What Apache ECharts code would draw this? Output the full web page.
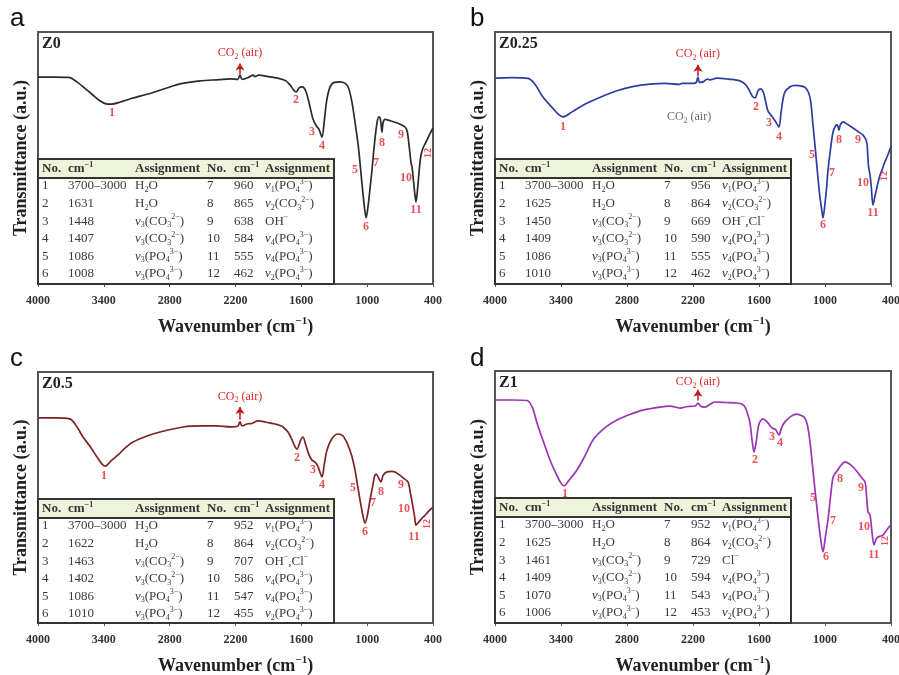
<!DOCTYPE html>
<html lang="en">
<head>
<meta charset="UTF-8">
<title>FTIR spectra</title>
<script src="https://cdn.jsdelivr.net/npm/echarts@6/dist/echarts.min.js"></script>
<style>
    html, body { margin: 0; padding: 0; background: #fff; }
    #chart { width: 899px; height: 675px; }
</style>
</head>
<body>
<div id="chart"></div>
<script>
// ---------- data (wavenumber cm-1, transmittance a.u. on a 0-100 scale) ----------
var sampleNames = ['Z0', 'Z0.25', 'Z0.5', 'Z1'];
var panelLetters = ['a', 'b', 'c', 'd'];

var spectrumZ0 = [[4000,82.1],[3850,82.1],[3720,82.0],[3640,80.0],[3572,77.6],[3500,75.0],[3440,72.8],[3380,71.5],[3330,71.4],[3250,72.2],[3150,73.6],[2979,75.6],[2840,77.6],[2706,79.4],[2524,80.6],[2350,81.1],[2250,81.4],[2180,81.2],[2159,82.9],[2140,81.2],[2080,82.0],[2040,82.9],[2022,82.3],[1990,82.9],[1900,82.3],[1800,81.5],[1740,80.6],[1700,78.8],[1670,77.0],[1648,76.2],[1620,77.8],[1590,78.2],[1560,76.6],[1530,72.0],[1494,65.5],[1460,62.5],[1440,61.5],[1412,58.3],[1390,65.0],[1370,72.5],[1340,78.0],[1300,80.0],[1248,80.2],[1200,79.6],[1170,77.8],[1140,72.5],[1110,64.0],[1080,54.5],[1050,41.0],[1025,30.5],[1010,26.2],[990,31.5],[970,39.5],[956,45.2],[935,55.0],[910,64.0],[892,66.3],[878,65.0],[865,60.3],[855,64.0],[837,65.3],[790,64.8],[746,64.2],[700,63.4],[655,62.3],[635,60.5],[618,55.0],[600,48.0],[591,46.5],[578,41.0],[565,35.5],[555,32.5],[540,38.0],[525,45.5],[510,51.0],[491,54.0],[470,55.8],[455,57.1],[430,59.5],[400,61.9]];
var spectrumZ025 = [[4000,81.7],[3850,81.9],[3700,81.6],[3640,79.5],[3564,74.2],[3480,70.0],[3420,67.2],[3382,66.3],[3300,68.3],[3200,70.9],[3136,72.3],[3000,74.9],[2891,76.7],[2750,78.3],[2591,79.3],[2450,79.6],[2330,79.2],[2300,79.6],[2200,79.6],[2170,80.0],[2155,82.1],[2140,80.0],[2109,80.2],[2070,81.3],[2045,81.0],[1982,81.7],[1880,81.3],[1773,80.6],[1720,79.0],[1690,77.0],[1660,74.5],[1636,73.8],[1610,76.6],[1585,77.4],[1560,76.0],[1540,72.5],[1518,68.6],[1482,66.5],[1450,64.5],[1418,62.3],[1400,68.0],[1380,73.8],[1364,76.2],[1320,78.2],[1270,78.8],[1220,78.6],[1182,78.0],[1150,76.0],[1130,72.5],[1109,63.0],[1090,54.5],[1073,46.4],[1050,36.0],[1030,29.5],[1018,26.2],[1000,32.0],[985,38.5],[973,45.0],[950,53.5],[927,60.3],[905,62.7],[891,63.3],[880,62.0],[873,61.1],[862,63.0],[836,64.3],[790,63.2],[745,61.9],[700,60.5],[655,59.1],[630,57.5],[618,55.5],[605,47.0],[591,43.3],[580,39.0],[564,31.3],[545,35.0],[527,38.5],[505,42.5],[482,45.2],[460,48.0],[436,50.4],[415,52.8],[400,54.4]];
var spectrumZ05 = [[4000,81.7],[3850,81.7],[3710,81.3],[3650,78.5],[3590,74.1],[3520,70.0],[3462,66.1],[3420,63.5],[3389,62.5],[3330,64.8],[3253,67.7],[3200,70.0],[3134,72.1],[3000,74.6],[2888,76.1],[2678,78.1],[2500,78.5],[2369,78.5],[2250,78.1],[2180,78.4],[2159,80.1],[2140,78.5],[2095,79.3],[2050,79.5],[1995,80.5],[1900,79.8],[1800,78.8],[1767,78.1],[1720,76.0],[1690,73.5],[1660,70.5],[1639,69.3],[1610,72.5],[1585,74.1],[1560,71.0],[1530,67.0],[1503,64.9],[1475,64.1],[1450,62.5],[1412,58.2],[1390,63.5],[1366,68.9],[1320,73.5],[1266,75.3],[1220,74.5],[1175,70.9],[1140,66.5],[1111,61.0],[1090,55.5],[1065,49.0],[1040,43.0],[1020,39.8],[1000,42.5],[974,49.0],[950,54.5],[929,59.0],[915,59.2],[901,58.2],[874,56.2],[855,58.8],[819,60.2],[780,60.4],[746,60.2],[700,58.8],[673,57.8],[628,56.2],[605,51.5],[582,46.2],[565,41.5],[555,39.0],[530,40.2],[500,41.8],[480,42.6],[455,43.8],[430,45.0],[400,46.2]];
var spectrumZ1 = [[4000,88.5],[3850,88.5],[3709,88.3],[3660,85.5],[3618,79.4],[3560,72.0],[3500,64.7],[3440,58.8],[3400,55.5],[3373,54.4],[3330,56.5],[3255,60.7],[3180,66.5],[3109,72.6],[3000,77.5],[2891,80.6],[2760,83.0],[2655,84.5],[2500,85.7],[2409,86.1],[2318,85.3],[2250,85.9],[2180,86.1],[2155,87.3],[2130,86.0],[2091,85.7],[2040,86.9],[2000,87.7],[1900,87.5],[1800,87.3],[1750,86.7],[1727,85.7],[1700,82.5],[1682,79.4],[1660,71.5],[1645,67.9],[1625,72.0],[1600,79.0],[1564,81.0],[1520,79.5],[1482,77.4],[1450,76.8],[1418,74.6],[1395,77.5],[1364,79.8],[1310,82.0],[1255,82.9],[1210,82.2],[1182,81.3],[1160,78.5],[1136,71.8],[1115,63.0],[1091,52.8],[1070,44.5],[1040,33.5],[1018,28.2],[1000,33.0],[985,37.5],[973,40.9],[950,50.0],[927,57.9],[905,59.5],[891,60.3],[860,62.3],[818,63.9],[780,63.2],[745,61.9],[700,59.6],[664,57.5],[636,56.0],[622,50.5],[609,44.0],[591,42.9],[575,37.0],[555,31.0],[535,33.3],[518,34.1],[495,34.5],[473,34.9],[445,36.5],[418,38.1],[400,38.9]];

// anchor of the red peak numbers 1..12 (wavenumber, transmittance)
var peaksZ0 = [[3326,67.9],[1649,73.0],[1503,60.3],[1412,54.8],[1111,45.2],[1011,22.6],[919,48.0],[865,55.9],[692,59.1],[646,42.1],[555,29.4],[446,52.0]];
var peaksZ025 = [[3382,62.3],[1627,70.2],[1509,63.9],[1418,58.3],[1118,51.2],[1018,23.4],[936,44.0],[873,57.1],[700,57.1],[655,40.1],[564,28.2],[464,42.9]];
var peaksZ05 = [[3398,58.6],[1639,65.7],[1494,61.0],[1412,55.0],[1129,53.8],[1020,36.3],[947,47.8],[874,52.2],[692,55.0],[664,45.4],[573,34.3],[455,39.4]];
var peaksZ1 = [[3364,51.2],[1636,64.7],[1482,73.8],[1409,71.4],[1109,49.6],[991,26.2],[927,40.5],[864,57.1],[673,53.6],[645,38.1],[555,27.0],[455,32.5]];

// CO2 (air) arrow: wavenumber, arrow start, arrow tip
var co2Z0 = [2159, 83.3, 87.5];
var co2Z025 = [2155, 82.5, 87.0];
var co2Z05 = [2159, 81.0, 86.1];
var co2Z1 = [2155, 88.3, 92.6];
var co2NoteZ025 = [2236, 66.3];

// band assignment tables (_x subscript, ^{..} superscript, *v italic)
var tableHeader = ['No.', 'cm^{−1}', 'Assignment', 'No.', 'cm^{−1}', 'Assignment'];
var tableZ0 = [
    ['1', '3700–3000', 'H_2O', '7', '960', '*v_1(PO_4^{3−})'],
    ['2', '1631', 'H_2O', '8', '865', '*v_2(CO_3^{2−})'],
    ['3', '1448', '*v_3(CO_3^{2−})', '9', '638', 'OH^{−}'],
    ['4', '1407', '*v_3(CO_3^{2−})', '10', '584', '*v_4(PO_4^{3−})'],
    ['5', '1086', '*v_3(PO_4^{3−})', '11', '555', '*v_4(PO_4^{3−})'],
    ['6', '1008', '*v_3(PO_4^{3−})', '12', '462', '*v_2(PO_4^{3−})']
];
var tableZ025 = [
    ['1', '3700–3000', 'H_2O', '7', '956', '*v_1(PO_4^{3−})'],
    ['2', '1625', 'H_2O', '8', '864', '*v_2(CO_3^{2−})'],
    ['3', '1450', '*v_3(CO_3^{2−})', '9', '669', 'OH^{−},Cl^{−}'],
    ['4', '1409', '*v_3(CO_3^{2−})', '10', '590', '*v_4(PO_4^{3−})'],
    ['5', '1086', '*v_3(PO_4^{3−})', '11', '555', '*v_4(PO_4^{3−})'],
    ['6', '1010', '*v_3(PO_4^{3−})', '12', '462', '*v_2(PO_4^{3−})']
];
var tableZ05 = [
    ['1', '3700–3000', 'H_2O', '7', '952', '*v_1(PO_4^{3−})'],
    ['2', '1622', 'H_2O', '8', '864', '*v_2(CO_3^{2−})'],
    ['3', '1463', '*v_3(CO_3^{2−})', '9', '707', 'OH^{−},Cl^{−}'],
    ['4', '1402', '*v_3(CO_3^{2−})', '10', '586', '*v_4(PO_4^{3−})'],
    ['5', '1086', '*v_3(PO_4^{3−})', '11', '547', '*v_4(PO_4^{3−})'],
    ['6', '1010', '*v_3(PO_4^{3−})', '12', '455', '*v_2(PO_4^{3−})']
];
var tableZ1 = [
    ['1', '3700–3000', 'H_2O', '7', '952', '*v_1(PO_4^{3−})'],
    ['2', '1625', 'H_2O', '8', '864', '*v_2(CO_3^{2−})'],
    ['3', '1461', '*v_3(CO_3^{2−})', '9', '729', 'Cl^{−}'],
    ['4', '1409', '*v_3(CO_3^{2−})', '10', '594', '*v_4(PO_4^{3−})'],
    ['5', '1070', '*v_3(PO_4^{3−})', '11', '543', '*v_4(PO_4^{3−})'],
    ['6', '1006', '*v_3(PO_4^{3−})', '12', '453', '*v_2(PO_4^{3−})']
];

// ---------- layout / style ----------
var SERIF = "'Liberation Serif', 'Times New Roman', serif";
var SANS = "'Liberation Sans', Arial, sans-serif";
var RED = '#e3262b';
var lineColors = ['#2a2a2a', '#2f3c9e', '#7d2326', '#9a34b4'];
var grids = [
    {left: 38, top: 32, width: 395, height: 252},
    {left: 495, top: 32, width: 396, height: 252},
    {left: 38, top: 372, width: 395, height: 251},
    {left: 495, top: 371, width: 396, height: 252}
];
var spectra = [spectrumZ0, spectrumZ025, spectrumZ05, spectrumZ1];
var peaks = [peaksZ0, peaksZ025, peaksZ05, peaksZ1];
var co2 = [co2Z0, co2Z025, co2Z05, co2Z1];
var tables = [tableZ0, tableZ025, tableZ05, tableZ1];
var colX = [4, 30, 97, 169, 196, 227];

// markup -> rich text tokens
function toRich(s, bold) {
    var p = bold ? 'h' : '';
    return s.replace(/\*(\w)|_(\w)|\^\{([^}]*)\}|([^*_^]+)/g, function (m, it, sb, sp, t) {
        if (it) return '{' + p + 'it|' + it + '}';
        if (sb) return '{' + p + 'sb|' + sb + '}';
        if (sp) return '{' + p + 'sp|' + sp + '}';
        return '{' + p + 'n|' + t + '}';
    });
}

function tok(size, extra) {
    var o = {fontSize: size, fontFamily: SERIF, lineHeight: size >= 12 ? 16 : 8};
    for (var k in extra) o[k] = extra[k];
    return o;
}
var tableRich = {
    n: tok(13, {fill: '#3a3a3a'}),
    it: tok(13, {fill: '#3a3a3a', fontStyle: 'italic'}),
    sb: tok(8, {fill: '#3a3a3a', verticalAlign: 'bottom'}),
    sp: tok(8, {fill: '#3a3a3a', verticalAlign: 'top'}),
    hn: tok(13, {fill: '#333', fontWeight: 'bold'}),
    hsp: tok(8, {fill: '#333', fontWeight: 'bold', verticalAlign: 'top'})
};

function tableGraphic(g, rows) {
    var x0 = g.left, y0 = g.top + 127, w = 296, h = g.height - 127;
    var els = [
        {type: 'rect', silent: true, z: 10, shape: {x: x0, y: y0, width: w, height: h},
            style: {fill: '#fff', stroke: '#333', lineWidth: 2}},
        {type: 'rect', silent: true, z: 11, shape: {x: x0, y: y0, width: w, height: 19},
            style: {fill: '#eef3dc', stroke: '#333', lineWidth: 2}}
    ];
    tableHeader.forEach(function (t, c) {
        els.push({type: 'text', silent: true, z: 12,
            style: {text: toRich(t, true), rich: tableRich, x: x0 + colX[c], y: y0 + 9.5, verticalAlign: 'middle', align: 'left'}});
    });
    rows.forEach(function (r, i) {
        r.forEach(function (t, c) {
            els.push({type: 'text', silent: true, z: 12,
                style: {text: toRich(t, false), rich: tableRich, x: x0 + colX[c], y: y0 + 27 + 17.6 * i, verticalAlign: 'middle', align: 'left'}});
        });
    });
    return els;
}

var labelRich = {
    n: {fontSize: 12, fontFamily: SERIF, color: RED, lineHeight: 15},
    s: {fontSize: 8, fontFamily: SERIF, color: RED, verticalAlign: 'bottom', lineHeight: 8}
};
var grayRich = {
    n: {fontSize: 12, fontFamily: SERIF, color: '#444', lineHeight: 15},
    s: {fontSize: 8, fontFamily: SERIF, color: '#444', verticalAlign: 'bottom', lineHeight: 8}
};
var nameRich = {
    n: {fontSize: 18, fontFamily: SERIF, fontWeight: 'bold', color: '#222', lineHeight: 22},
    s: {fontSize: 11, fontFamily: SERIF, fontWeight: 'bold', color: '#222', verticalAlign: 'top', lineHeight: 11}
};

var xAxes = [], yAxes = [], series = [], graphics = [];
grids.forEach(function (g, i) {
    xAxes.push({
        gridIndex: i, type: 'value', min: 400, max: 4000, interval: 600, inverse: true,
        axisLine: {show: true, lineStyle: {color: '#555', width: 2}},
        axisTick: {show: true, length: 3, lineStyle: {color: '#555'}},
        axisLabel: {margin: 11, fontFamily: SERIF, fontWeight: 'bold', fontSize: 12, color: '#333',
            showMinLabel: true, showMaxLabel: true, formatter: function (v) { return String(v); }},
        splitLine: {show: false},
        name: '{n|Wavenumber (cm}{s|−1}{n|)}', nameLocation: 'middle', nameGap: 32,
        nameTextStyle: {rich: nameRich}
    });
    yAxes.push({
        gridIndex: i, type: 'value', min: 0, max: 100,
        axisLine: {show: false}, axisTick: {show: false}, axisLabel: {show: false}, splitLine: {show: false},
        name: 'Transmittance (a.u.)', nameLocation: 'middle', nameGap: 8,
        nameTextStyle: {fontFamily: SERIF, fontWeight: 'bold', fontSize: 18, color: '#222'}
    });
    var c = co2[i];
    series.push({
        type: 'line', xAxisIndex: i, yAxisIndex: i, data: spectra[i], showSymbol: false, symbol: 'none',
        smooth: 0.3, lineStyle: {color: lineColors[i], width: 1.7}, silent: true, z: 3,
        markLine: {
            silent: true, symbol: ['none', 'arrow'], symbolSize: 7,
            lineStyle: {color: '#c4161c', width: 1.5, type: 'solid'},
            label: {show: true, position: 'end', distance: i === 3 ? 0 : 3, formatter: '{n|CO}{s|2}{n| (air)}', rich: labelRich},
            data: [[{coord: [c[0], c[1]]}, {coord: [c[0], c[2]]}]]
        }
    });
    series.push({
        type: 'scatter', xAxisIndex: i, yAxisIndex: i, symbolSize: 1, silent: true, z: 4,
        itemStyle: {color: 'rgba(0,0,0,0)'},
        label: {show: true, position: 'inside', formatter: '{b}', color: RED,
            fontFamily: SERIF, fontWeight: 'bold', fontSize: 12},
        data: peaks[i].map(function (p, k) {
            var d = {name: String(k + 1), value: p};
            if (k === 11) d.label = {rotate: 90, fontSize: 10};
            return d;
        })
    });
    graphics = graphics.concat(tableGraphic(g, tables[i]));
    graphics.push({type: 'text', silent: true, z: 12,
        style: {text: sampleNames[i], x: g.left + 4, y: g.top + 12, verticalAlign: 'middle',
            font: 'bold 16px ' + SERIF, fill: '#222'}});
    graphics.push({type: 'text', silent: true, z: 12,
        style: {text: panelLetters[i], x: i % 2 ? 470 : 10, y: i < 2 ? 19 : 359, verticalAlign: 'middle',
            font: '26px ' + SANS, fill: '#111'}});
});

// stray grey CO2 note inside panel b
series.push({
    type: 'scatter', xAxisIndex: 1, yAxisIndex: 1, symbolSize: 1, silent: true,
    itemStyle: {color: 'rgba(0,0,0,0)'},
    label: {show: true, position: 'inside', formatter: '{n|CO}{s|2}{n| (air)}', rich: grayRich},
    data: [co2NoteZ025]
});

var chart = echarts.init(document.getElementById('chart'));
chart.setOption({
    animation: false,
    backgroundColor: '#fff',
    grid: grids.map(function (g) {
        return {left: g.left, top: g.top, width: g.width, height: g.height, show: true,
            outerBoundsMode: 'none', containLabel: false,
            borderColor: '#555', borderWidth: 2, backgroundColor: 'transparent'};
    }),
    xAxis: xAxes,
    yAxis: yAxes,
    series: series,
    graphic: graphics
});
</script>
</body>
</html>
